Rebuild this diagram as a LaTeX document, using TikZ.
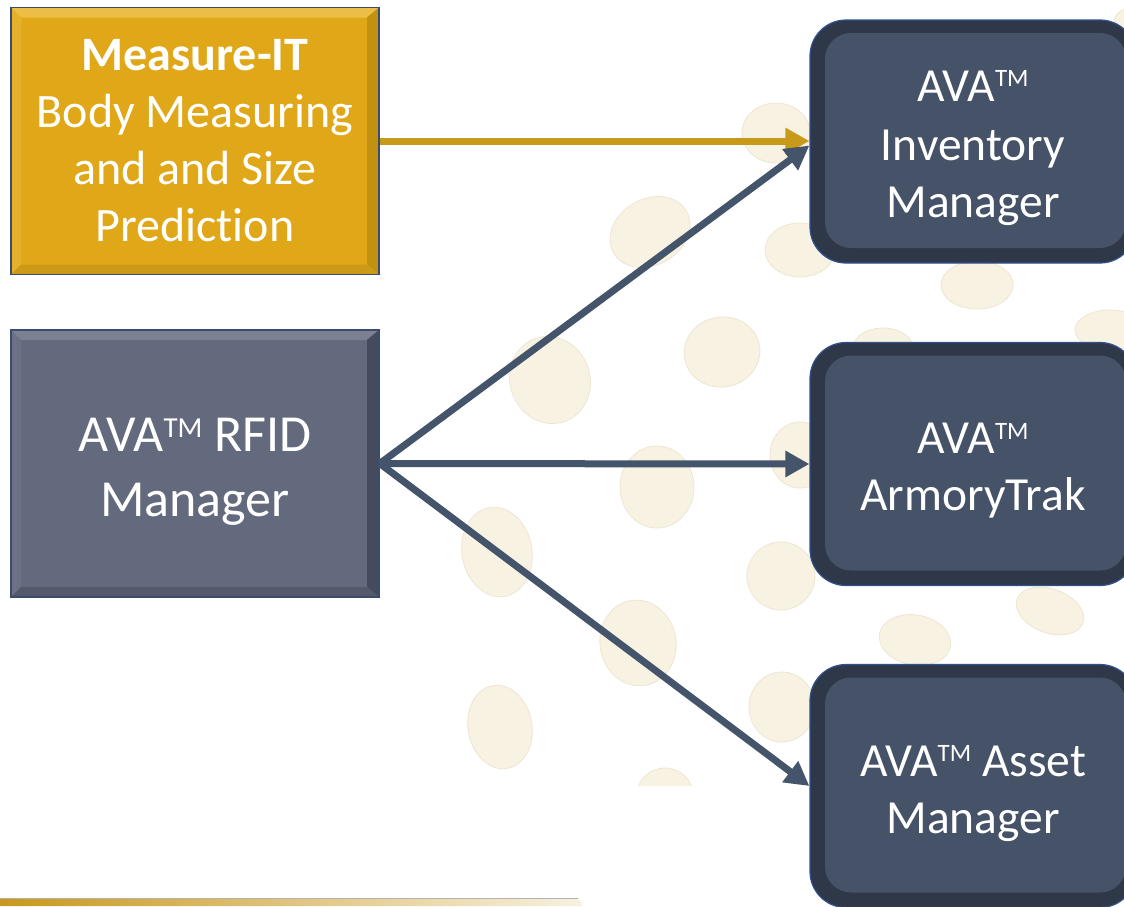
\documentclass[tikz,border=0pt]{standalone}
\usepackage{fontspec}
\setmainfont{Carlito}[Ligatures=NoCommon]
\usetikzlibrary{arrows.meta}
\definecolor{goldface}{HTML}{E0A818}
\definecolor{goldtop}{HTML}{ECBE45}
\definecolor{goldleft}{HTML}{E5B02A}
\definecolor{goldright}{HTML}{C39112}
\definecolor{goldbot}{HTML}{CC9A16}
\definecolor{greyface}{HTML}{646A7D}
\definecolor{greytop}{HTML}{7B8193}
\definecolor{greyleft}{HTML}{6C7285}
\definecolor{greyright}{HTML}{454A5C}
\definecolor{greybot}{HTML}{545A6C}
\definecolor{boxline}{HTML}{3A4D6E}
\definecolor{rout}{HTML}{2F3849}
\definecolor{rline}{HTML}{2F528F}
\definecolor{rin}{HTML}{465268}
\definecolor{navy}{HTML}{44546A}
\definecolor{goldline}{HTML}{C79A1A}
\definecolor{dotfill}{HTML}{F8F2E2}
\definecolor{dotline}{HTML}{EEE6D2}
\definecolor{barL}{HTML}{C8981C}
\definecolor{barR}{HTML}{F7F1E0}
\newcommand\tmark{\raisebox{14.5pt}{\fontsize{25pt}{25pt}\selectfont TM}}
\newcommand\tmarkbig{\raisebox{14.5pt}{\fontsize{29pt}{29pt}\selectfont TM}}
\newcommand\lift[1]{\rule{0pt}{#1}}
\begin{document}
\begin{tikzpicture}[x=1pt,y=-1pt,
  txt/.style={text=white, font=\fontsize{47.5pt}{57pt}\selectfont, align=center},
  lbox/.style n args={5}{txt, draw=boxline, line width=1.5pt, fill=#1,
    minimum width=368pt, minimum height=267pt, inner sep=0pt,
    path picture={
      \fill[#2] (path picture bounding box.north west) -- (path picture bounding box.north east)
        -- ([shift={(-12pt,-10pt)}]path picture bounding box.north east)
        -- ([shift={(10pt,-10pt)}]path picture bounding box.north west) -- cycle;
      \fill[#3] (path picture bounding box.north west) -- ([shift={(10pt,-10pt)}]path picture bounding box.north west)
        -- ([shift={(10pt,10pt)}]path picture bounding box.south west) -- (path picture bounding box.south west) -- cycle;
      \fill[#4] (path picture bounding box.north east) -- ([shift={(-12pt,-10pt)}]path picture bounding box.north east)
        -- ([shift={(-12pt,10pt)}]path picture bounding box.south east) -- (path picture bounding box.south east) -- cycle;
      \fill[#5] (path picture bounding box.south west) -- ([shift={(10pt,10pt)}]path picture bounding box.south west)
        -- ([shift={(-12pt,10pt)}]path picture bounding box.south east) -- (path picture bounding box.south east) -- cycle;
    }},
  rbox/.style={txt, rounded corners=36pt, minimum width=326pt, minimum height=243pt,
    inner sep=0pt, fill=rout, draw=rline, line width=1.2pt,
    path picture={\fill[rin, rounded corners=26pt]
      ([shift={(15pt,-13pt)}]path picture bounding box.north west) rectangle
      ([shift={(-10pt,15pt)}]path picture bounding box.south east);}},
  dot/.style={fill=dotfill, draw=dotline, line width=0.8pt},
  navyarrow/.style={draw=navy, line width=7pt, -{Triangle[length=24pt,width=25pt]}},
  goldarrow/.style={draw=goldline, line width=7pt, -{Triangle[length=24pt,width=25pt]}}
]
\useasboundingbox (0,0) rectangle (1124,906);
\clip (0,0) rectangle (1124,906);
\fill[white] (0,0) rectangle (1124,906);
% background dots
\begin{scope}
\clip (430,0) rectangle (1124,785);
\foreach \cx/\cy/\rx/\ry/\r in {
  776/133/34/30/0, 650/232/42/33/30, 800/250/35/27/0, 977/285/36/24/0,
  722/352/38/35/10, 550/380/40/44/20, 1110/330/35/20/0, 883/348/30/20/0,
  800/455/30/33/0, 657/487/37/41/0, 497/552/35/45/10, 781/576/34/34/0,
  1050/611/35/22/-20, 915/640/36/25/-10, 638/643/38/43/10, 782/707/33/35/0,
  500/727/32/42/10, 665/795/28/27/0, 1132/22/18/14/0}
  \path[dot] (\cx,\cy) ellipse [x radius=\rx pt, y radius=\ry pt, rotate=\r];
\end{scope}
% left boxes
\node[lbox={goldface}{goldtop}{goldleft}{goldright}{goldbot}, font=\fontsize{48pt}{57pt}\selectfont] (measure) at (195,141)
  {\textbf{Measure-IT}\\Body Measuring\\and and Size\\Prediction};
\node[lbox={greyface}{greytop}{greyleft}{greyright}{greybot}, font=\fontsize{52pt}{65pt}\selectfont] (rfid) at (195,463.5)
  {\lift{50pt}AVA\tmarkbig{} RFID\\Manager};
% right boxes
\node[rbox] (inv) at (973,141.5) {\lift{44pt}AVA\tmark\\[2pt]Inventory\\Manager};
\node[rbox] (armory) at (973,464) {\lift{44pt}AVA\tmark\\ArmoryTrak};
\node[rbox] (asset) at (973,786) {\lift{46pt}AVA\tmark{} Asset\\Manager};
% connectors
\draw[goldarrow] (measure.east) -- (inv.west |- measure.east);
\draw[navyarrow] (rfid.east) -- ([yshift=-4pt]inv.west);
\draw[navyarrow] (rfid.east) -- (armory.west);
\draw[navyarrow] (rfid.east) -- (asset.west);
% bottom bar
\shade[left color=barL, right color=barR] (0,898) -- (578,898) -- (583,906) -- (0,906) -- cycle;
\draw[black!30, line width=0.8pt] (0,898) -- (578,898);
\end{tikzpicture}
\end{document}
